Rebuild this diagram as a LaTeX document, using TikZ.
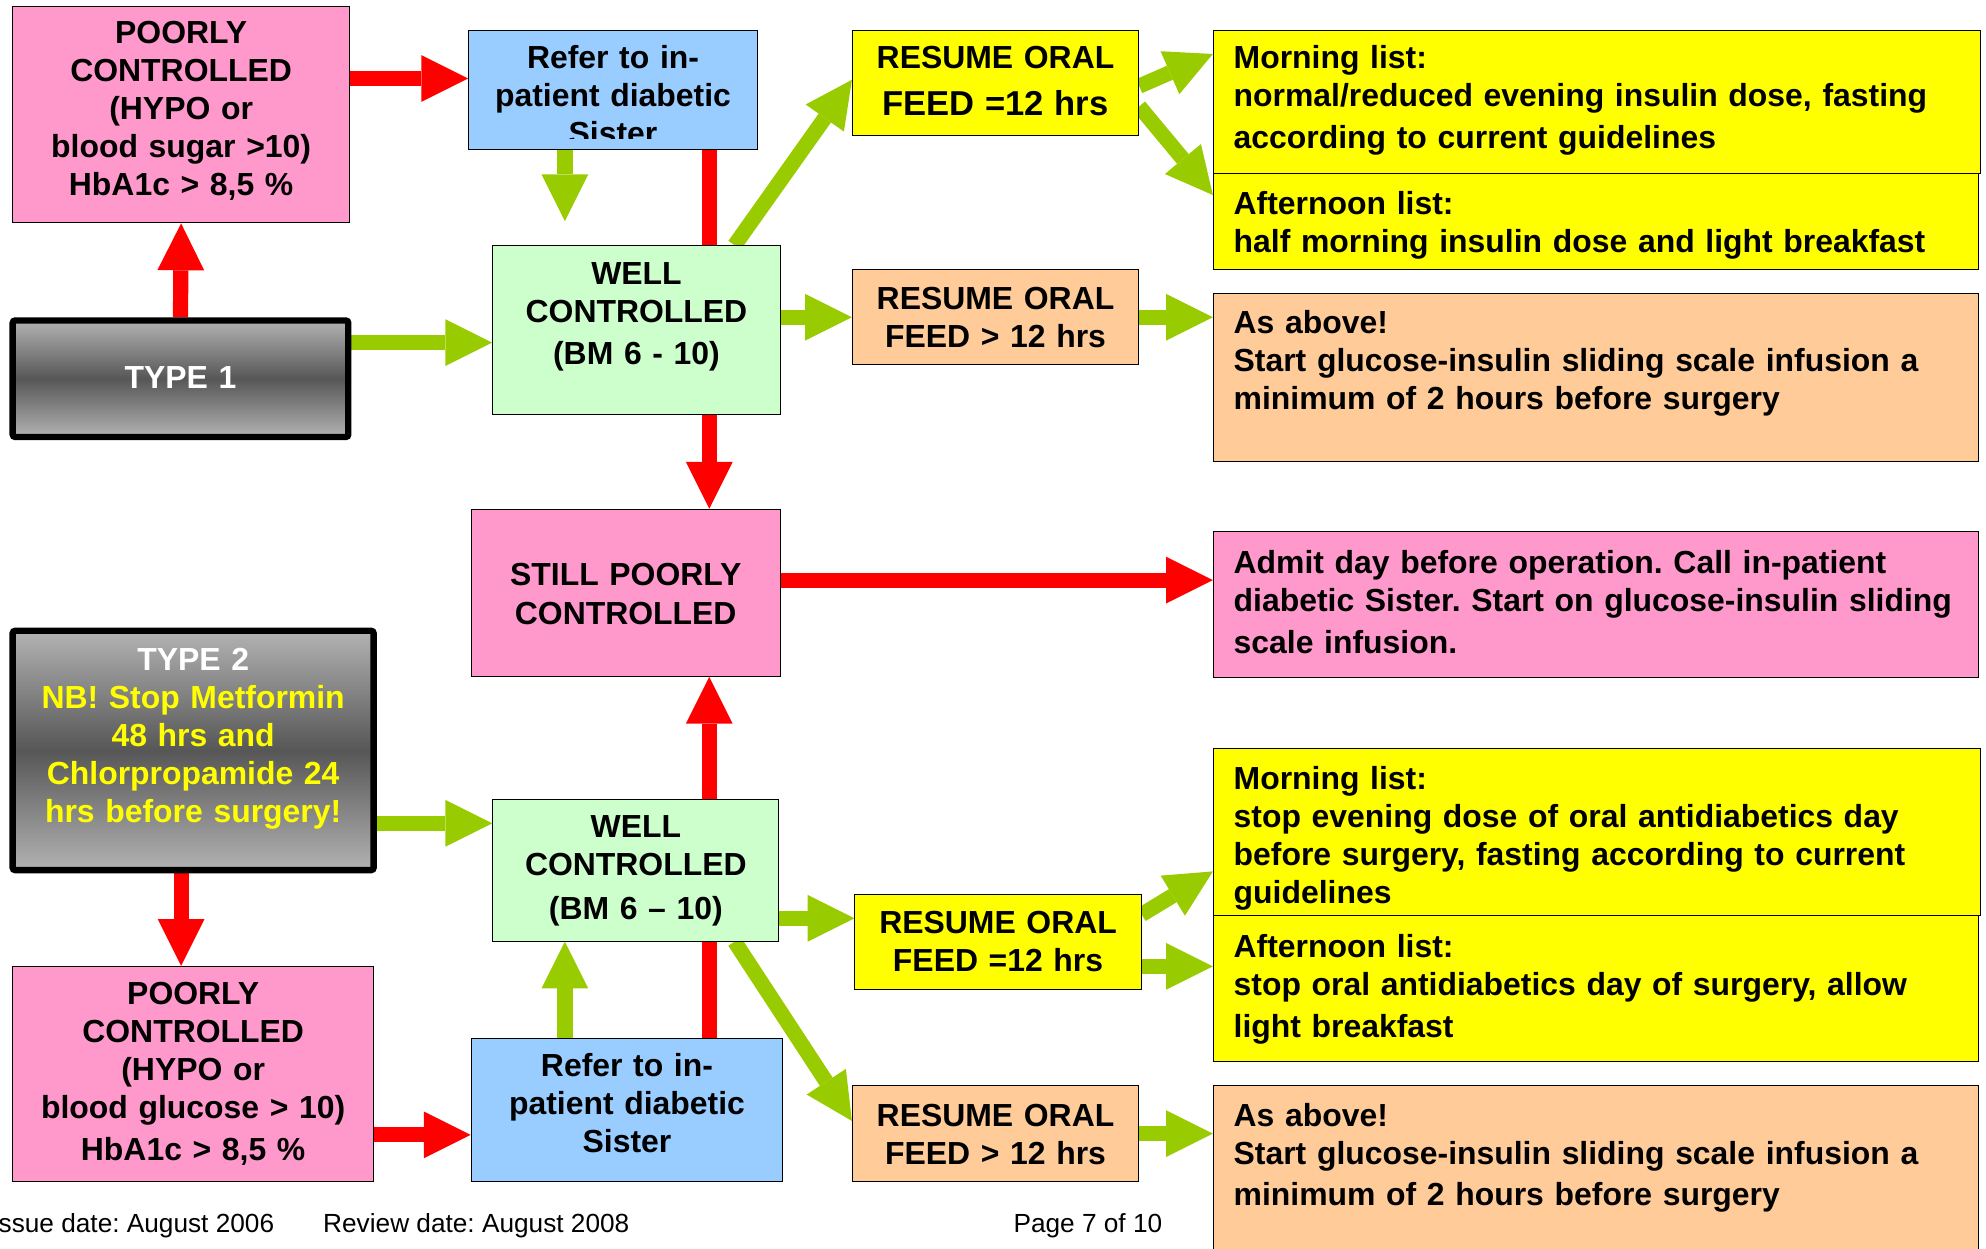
\documentclass[tikz,border=0pt]{standalone}
\usepackage{fontspec}
\setmainfont{Liberation Sans}
\usetikzlibrary{arrows.meta}
\frenchspacing
\definecolor{pinkbox}{RGB}{255,153,204}
\definecolor{bluebox}{RGB}{153,204,255}
\definecolor{greenbox}{RGB}{204,255,204}
\definecolor{yellowbox}{RGB}{255,255,0}
\definecolor{peachbox}{RGB}{255,204,153}
\definecolor{arrowgreen}{RGB}{153,204,0}
\pgfdeclarelayer{background}
\pgfsetlayers{background,main}
\tikzstyle{flowbox}=[rectangle,draw=black,line width=0.8pt,align=center,inner xsep=4pt,inner ysep=0pt]
\tikzstyle{notebox}=[rectangle,draw=black,line width=0.8pt,align=left,inner xsep=16pt,inner ysep=0pt]
\tikzstyle{typebox}=[rectangle,draw=black,line width=5pt,rounded corners=2pt,top color=black!30,bottom color=black!30,middle color=black!66,align=center,inner xsep=4pt,inner ysep=0pt]
\tikzstyle{redarrow}=[draw=red,line width=12pt,-{Triangle[width=37pt,length=37pt,line width=0pt]}]
\tikzstyle{greenarrow}=[draw=arrowgreen,line width=12pt,-{Triangle[width=37pt,length=37pt,line width=0pt]}]

\begin{document}
\begin{tikzpicture}[x=1pt,y=-1pt,font=\bfseries\fontsize{25.2}{30}\selectfont]
  \useasboundingbox (0,0) rectangle (1568,986);

  % type 1
  \node[typebox,text=white,text width=257pt,text height=54pt,text depth=38pt] (t1) at (142.5,299) {TYPE 1};
  \node[flowbox,fill=pinkbox,text width=258pt,text height=29pt,text depth=142pt] (pc1) at (143,90.5)
    {POORLY\\CONTROLLED\\(HYPO or\\blood sugar >10)\\HbA1c > 8,5 \%};
  \node[flowbox,fill=bluebox,text width=220pt,text height=30pt,text depth=64pt] (ref1) at (484,71) {};
  \begin{scope}
    \clip (ref1.north west) rectangle ([yshift=9pt]ref1.south east);
    \node[flowbox,draw=none,text width=220pt,text height=30pt,text depth=64pt] (ref1 text) at (ref1)
      {Refer to in-\\patient diabetic\\Sister};
  \end{scope}
  \node[flowbox,fill=greenbox,text width=219pt,text height=31pt,text depth=102pt] (wc1) at (502.5,260.5)
    {WELL\\CONTROLLED\\[3pt](BM 6 - 10)};
  \node[flowbox,fill=yellowbox,text width=218pt,text height=30pt,text depth=53pt] (rf1) at (786,65.5)
    {RESUME ORAL\\[7pt]{\fontsize{27.3}{30}\selectfont FEED =12 hrs}};
  \node[flowbox,fill=peachbox,text width=218pt,text height=31pt,text depth=44pt] (rg1) at (786,250.5)
    {RESUME ORAL\\FEED > 12 hrs};
  \node[notebox,fill=yellowbox,text width=574pt,text height=30pt,text depth=83pt] (mo1) at (1261,80.5)
    {Morning list:\\normal/reduced evening insulin dose, fasting\\[3pt]according to current guidelines};
  \node[notebox,fill=yellowbox,text width=572pt,text height=32pt,text depth=44pt] (af1) at (1260,175)
    {Afternoon list:\\half morning insulin dose and light breakfast};
  \node[notebox,fill=peachbox,text width=572pt,text height=31pt,text depth=101pt] (ab1) at (1260,298)
    {As above!\\Start glucose-insulin sliding scale infusion a\\minimum of 2 hours before surgery};

  % middle
  \node[flowbox,fill=pinkbox,text width=236pt,text height=60pt,text depth=72pt] (sp) at (494,468)
    {STILL POORLY\\[1pt]CONTROLLED};
  \node[notebox,fill=pinkbox,text width=572pt,text height=33pt,text depth=82pt] (ad) at (1260,477.5)
    {Admit day before operation. Call in-patient\\diabetic Sister. Start on glucose-insulin sliding\\[3pt]scale infusion.};

  % type 2
  \node[typebox,text=yellowbox,text width=277pt,text height=31pt,text depth=158pt] (t2) at (152.5,592.5)
    {{\color{white}TYPE 2}\\NB! Stop Metformin\\48 hrs and\\Chlorpropamide 24\\hrs before surgery!};
  \node[flowbox,fill=pinkbox,text width=277pt,text height=30pt,text depth=140pt] (pc2) at (152.5,848)
    {POORLY\\CONTROLLED\\(HYPO or\\blood glucose > 10)\\[3pt]HbA1c > 8,5 \%};
  \node[flowbox,fill=bluebox,text width=238pt,text height=30pt,text depth=83pt] (ref2) at (495,876.5)
    {Refer to in-\\patient diabetic\\Sister};
  \node[flowbox,fill=greenbox,text width=218pt,text height=30pt,text depth=82pt] (wc2) at (502,687)
    {WELL\\CONTROLLED\\[5pt](BM 6 -- 10)};
  \node[flowbox,fill=yellowbox,text width=218pt,text height=31pt,text depth=44pt] (rf2) at (788,743.5)
    {RESUME ORAL\\FEED =12 hrs};
  \node[flowbox,fill=peachbox,text width=218pt,text height=32pt,text depth=44pt] (rg2) at (786,895)
    {RESUME ORAL\\FEED > 12 hrs};
  \node[notebox,fill=yellowbox,text width=574pt,text height=32pt,text depth=100pt] (mo2) at (1261,657)
    {Morning list:\\stop evening dose of oral antidiabetics day\\before surgery, fasting according to current\\guidelines};
  \node[notebox,fill=yellowbox,text width=572pt,text height=33pt,text depth=82pt] (af2) at (1260,780.5)
    {Afternoon list:\\stop oral antidiabetics day of surgery, allow\\[3pt]light breakfast};
  \node[notebox,fill=peachbox,text width=572pt,text height=32pt,text depth=121pt] (ab2) at (1260,933.5)
    {As above!\\Start glucose-insulin sliding scale infusion a\\[3pt]minimum of 2 hours before surgery};

  % footer
  \node[anchor=base west,inner sep=0pt,font=\fontsize{20.7}{24}\selectfont] (issue) at (-7,973) {Issue date: August 2006};
  \node[anchor=base west,inner sep=0pt,font=\fontsize{20.7}{24}\selectfont] (review) at (255,973) {Review date: August 2008};
  \node[anchor=base west,inner sep=0pt,font=\fontsize{20.7}{24}\selectfont] (page) at (800,973) {Page 7 of 10};

  \begin{pgfonlayer}{background}
    % type 1 arrows
    \draw[redarrow] (t1.north) -- (pc1.south);
    \draw[redarrow] ([yshift=28.5pt]pc1.east) -- ([yshift=28.5pt]pc1.east -| ref1.west);
    \draw[greenarrow,shorten >=19pt] ([xshift=-38pt]ref1.south) -- ([xshift=-38pt]ref1.south |- wc1.north);
    \draw[redarrow] ([xshift=76pt]ref1.south) -- ([xshift=76pt]ref1.south |- sp.north);
    \draw[greenarrow] ([yshift=28.5pt]t1.east) -- ([yshift=28.5pt]t1.east -| wc1.west);
    \draw[greenarrow] ([xshift=77.5pt]wc1.north) -- ([yshift=2.5pt]rf1.west);
    \draw[greenarrow] (rg1.west -| wc1.east) -- (rg1.west);
    \draw[greenarrow] ([yshift=-2.5pt]rf1.east) -- ([yshift=-19pt]mo1.north west);
    \draw[greenarrow] ([yshift=-18.5pt]rf1.east) -- ([yshift=21pt]af1.west);
    \draw[greenarrow] (rg1.east) -- (rg1.east -| ab1.west);
    \draw[redarrow] ([yshift=10pt]sp.east) -- ([yshift=10pt]sp.east -| ad.west);
    % type 2 arrows
    \draw[greenarrow] ([yshift=-57.5pt]t2.east) -- ([yshift=-57.5pt]t2.east -| wc2.west);
    \draw[redarrow] ([xshift=-9.5pt]t2.south) -- ([xshift=-9.5pt]t2.south |- pc2.north);
    \draw[redarrow] ([yshift=-48pt]pc2.east) -- ([yshift=-48pt]pc2.east -| ref2.west);
    \draw[greenarrow] ([xshift=-49pt]ref2.north) -- ([xshift=-49pt]ref2.north |- wc2.south);
    \draw[redarrow] ([xshift=65pt]ref2.north) -- ([xshift=65pt]ref2.north |- sp.south);
    \draw[greenarrow] ([yshift=-38pt]wc2.east) -- ([yshift=-38pt]wc2.east -| rf2.west);
    \draw[greenarrow] ([xshift=78pt]wc2.south) -- ([yshift=10pt]rg2.west);
    \draw[greenarrow] ([yshift=21.5pt]rf2.east) -- ([yshift=-31pt]mo2.west);
    \draw[greenarrow] ([yshift=-19.5pt]rf2.east) -- ([yshift=-19.5pt]rf2.east -| af2.west);
    \draw[greenarrow] (rg2.east) -- (rg2.east -| ab2.west);
  \end{pgfonlayer}
\end{tikzpicture}
\end{document}
